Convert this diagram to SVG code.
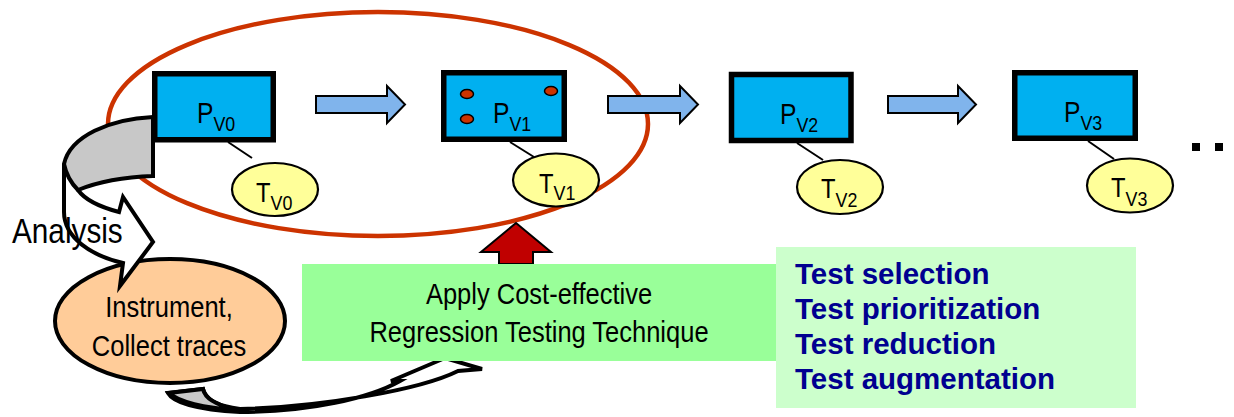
<svg xmlns="http://www.w3.org/2000/svg" width="1234" height="417" viewBox="0 0 1234 417">
<style>
.box{fill:#00B0F0;stroke:#000;stroke-width:5.5}
.tell{fill:#FFFF99;stroke:#000;stroke-width:2.2}
.blk{stroke:#000;stroke-width:2;fill:none}
.barrow{fill:#80B4EC;stroke:#000;stroke-width:2}
.nar{font-family:"Liberation Sans",Arial,sans-serif;fill:#000}
.lbl{font-size:29px}
.sub{font-size:21px}
.lst{font-family:"Liberation Sans",Arial,sans-serif;font-weight:bold;font-size:29.5px;fill:#000090}
.curv{fill:#fff;stroke:#000;stroke-width:4;stroke-linejoin:miter}
.gray{fill:#C8C8C8;stroke:#000;stroke-width:4}
</style>
<rect width="1234" height="417" fill="#fff"/>
<g id="scope">
<ellipse cx="378" cy="124" rx="270" ry="112" fill="none" stroke="#CC3300" stroke-width="4.5"/>
</g>
<g id="instrument">
<ellipse cx="170" cy="321" rx="115" ry="62" fill="#FFCC99" stroke="#000" stroke-width="4"/>
<text class="nar" transform="translate(169,317) scale(0.85,1)" font-size="30" text-anchor="middle">Instrument,</text>
<text class="nar" transform="translate(169,356) scale(0.85,1)" font-size="30" text-anchor="middle">Collect traces</text>
</g>
<g id="connectors">
<path class="curv" d="M64,164 L64,212 C64,238 92,256 123,263 L120,286 L153,242 L123,197 L119,212 C100,207 85,200 78,190 Z"/>
<path class="gray" d="M153,117 C110,119 70,136 64,164 C66,174 71,183 78,190 C100,181 125,177 153,176 Z"/>
<path class="curv" d="M168,393 C174,404 205,410 240,412 C310,412 370,398 400,381 L391,381 L445,358 L482,369 L458,371 C420,390 320,407 240,409 C215,406 205,398 203,389 Z"/>
<path class="gray" stroke-width="2" d="M169,393 L203,389 C205,398 214,404 236,410 C205,408 178,402 169,393 Z"/>
<polygon class="barrow" points="316,96 387,96 387,86 405,104.5 387,123 387,113 316,113"/>
<polygon class="barrow" points="608,96 680,96 680,86 698,104.5 680,123 680,113 608,113"/>
<polygon class="barrow" points="888,96 958,96 958,86 976,104.5 958,123 958,113 888,113"/>
<line class="blk" x1="228" y1="142" x2="252" y2="158"/>
<line class="blk" x1="510" y1="142" x2="534" y2="157"/>
<line class="blk" x1="797" y1="143" x2="823" y2="160"/>
<line class="blk" x1="1088" y1="141" x2="1114" y2="159"/>
<polygon fill="#C00000" stroke="#000" stroke-width="2" points="516,223 551,252 533,252 533,264 499,264 499,252 481,252"/>
</g>
<text class="nar" transform="translate(12,243) scale(0.85,1)" font-size="35">Analysis</text>
<g id="pv0">
<rect class="box" x="154.75" y="73.75" width="118.5" height="66"/>
<text class="nar lbl" transform="translate(197,123) scale(0.85,1)">P<tspan class="sub" dy="8">V0</tspan></text>
</g>
<g id="pv1">
<rect class="box" x="443.75" y="72.75" width="120.5" height="66.5"/>
<ellipse cx="467" cy="94" rx="6.5" ry="4.5" fill="#CC3300" stroke="#000" stroke-width="1.5"/>
<ellipse cx="467" cy="119" rx="6.5" ry="4.5" fill="#CC3300" stroke="#000" stroke-width="1.5"/>
<ellipse cx="551" cy="91" rx="6.5" ry="4.5" fill="#CC3300" stroke="#000" stroke-width="1.5"/>
<text class="nar lbl" transform="translate(493,123) scale(0.85,1)">P<tspan class="sub" dy="8">V1</tspan></text>
</g>
<g id="pv2">
<rect class="box" x="731.5" y="74.5" width="119.5" height="66"/>
<text class="nar lbl" transform="translate(780,124) scale(0.85,1)">P<tspan class="sub" dy="8">V2</tspan></text>
</g>
<g id="pv3">
<rect class="box" x="1014.75" y="72.75" width="120.5" height="65.5"/>
<text class="nar lbl" transform="translate(1064,122) scale(0.85,1)">P<tspan class="sub" dy="8">V3</tspan></text>
</g>
<g id="tv0">
<ellipse class="tell" cx="275" cy="189.5" rx="43" ry="26.5"/>
<text class="nar" transform="translate(256,202) scale(0.85,1)" font-size="28">T<tspan class="sub" dy="8">V0</tspan></text>
</g>
<g id="tv1">
<ellipse class="tell" cx="556" cy="180" rx="43" ry="26.5"/>
<text class="nar" transform="translate(539,193) scale(0.85,1)" font-size="28">T<tspan class="sub" dy="7">V1</tspan></text>
</g>
<g id="tv2">
<ellipse class="tell" cx="840" cy="187" rx="43" ry="27"/>
<text class="nar" transform="translate(821,198) scale(0.85,1)" font-size="28">T<tspan class="sub" dy="9">V2</tspan></text>
</g>
<g id="tv3">
<ellipse class="tell" cx="1130" cy="185.5" rx="43" ry="27"/>
<text class="nar" transform="translate(1111,197) scale(0.85,1)" font-size="28">T<tspan class="sub" dy="9">V3</tspan></text>
</g>
<g id="dots">
<rect x="1192" y="143" width="8" height="8" fill="#000"/>
<rect x="1215" y="143" width="8" height="8" fill="#000"/>
</g>
<g id="apply">
<rect x="302" y="264" width="474" height="97" fill="#99FF99"/>
<text class="nar" transform="translate(539,304) scale(0.85,1)" font-size="30" text-anchor="middle">Apply Cost-effective</text>
<text class="nar" transform="translate(539,342) scale(0.85,1)" font-size="30" text-anchor="middle">Regression Testing Technique</text>
</g>
<g id="techniques">
<rect x="776" y="247" width="360" height="161" fill="#CCFFCC"/>
<text class="lst" x="795" y="284">Test selection</text>
<text class="lst" x="795" y="319">Test prioritization</text>
<text class="lst" x="795" y="354">Test reduction</text>
<text class="lst" x="795" y="389">Test augmentation</text>
</g>
</svg>
